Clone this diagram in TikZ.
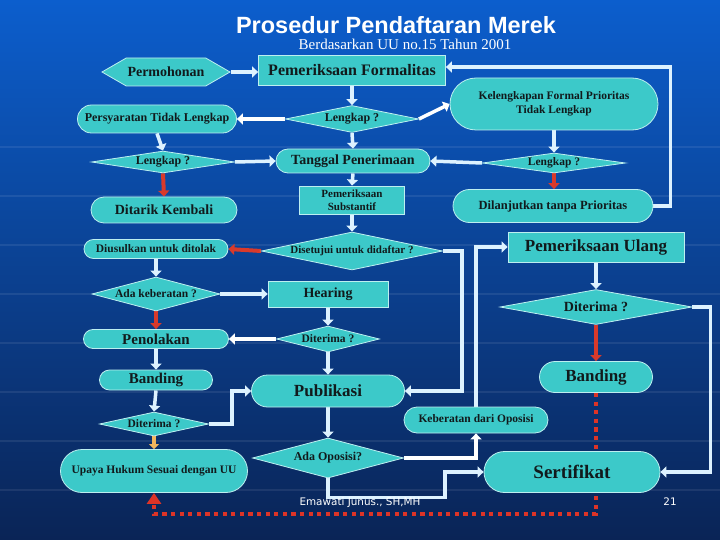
\documentclass[tikz,border=0pt]{standalone}
\usepackage{fontspec}
\setmainfont{Liberation Serif}
\setsansfont{Liberation Sans}
\newfontfamily\footfont{DejaVu Sans}
\usetikzlibrary{positioning, arrows.meta, shapes.geometric, shapes.misc, shapes.symbols, calc}
\definecolor{bgtop}{HTML}{0C5ECD}
\definecolor{bgmid}{HTML}{0D4AA2}
\definecolor{bgbot}{HTML}{0A2456}
\definecolor{boxfill}{HTML}{3CC9C9}
\definecolor{boxedge}{HTML}{BDEFF0}
\definecolor{ink}{HTML}{111A1C}
\definecolor{link}{HTML}{DDF2FF}
\definecolor{stop}{HTML}{D93A2B}
\definecolor{warm}{HTML}{F2B65E}
\newcommand{\nf}[1]{\fontsize{#1}{1.2\dimexpr#1pt\relax}\selectfont}
\newcommand{\zb}[1]{\makebox[0pt]{#1}}
\pgfdeclarelayer{back}
\pgfdeclarelayer{wires}
\pgfsetlayers{back,wires,main}
\tikzset{
  base/.style  = {draw=boxedge, line width=0.8pt, fill=boxfill, text=ink,
                  font=\bfseries, inner sep=0pt},
  box/.style   = {base, rectangle, align=center},
  term/.style  = {base, rounded rectangle},
  ask/.style   = {base, diamond, aspect=1},
  hexa/.style  = {base, signal, signal to=west and east, signal pointer angle=60},
  ar/.style    = {-{Triangle[length=6pt,width=11pt]}, line width=3.5pt, draw=link},
  war/.style   = {ar, draw=white},
  rar/.style   = {-{Triangle[length=6pt,width=11pt]}, line width=4pt, draw=stop},
  oar/.style   = {-{Triangle[length=5pt,width=10pt]}, line width=3.5pt, draw=warm},
  dotline/.style = {-{Triangle[length=11pt,width=14pt]}, line width=4.3pt, draw=stop!90!red,
                  dash pattern=on 4.3pt off 4.3pt},
  foot/.style  = {text=white, font=\footfont\nf{10.4}},
}
\begin{document}
\begin{tikzpicture}[x=1pt, y=-1pt]
  \useasboundingbox (0,0) rectangle (720,540);

  % background
  \begin{pgfonlayer}{back}
    \shade[top color=bgtop, middle color=bgmid, bottom color=bgbot] (0,0) rectangle (720,540);
    \foreach \y in {147,196,245,294,343,392,441,490}
      \draw[white, opacity=0.08, line width=1.5pt] (0,\y) -- (720,\y);
  \end{pgfonlayer}

  % heading
  \node[text=white, font=\sffamily\bfseries\nf{23.5}] (ttl) at (396,25) {Prosedur Pendaftaran Merek};
  \node[text=white, font=\nf{15}] (sub) at (405,44) {Berdasarkan UU no.15 Tahun 2001};

  % left column
  \node[hexa, minimum width=128, minimum height=28, font=\bfseries\nf{14}] (perm) at (166,72) {Permohonan};
  \node[term, minimum width=159, minimum height=28, font=\bfseries\nf{12}] (syarat) at (157,119) {\zb{Persyaratan Tidak Lengkap}};
  \node[ask, minimum width=143, minimum height=22, font=\bfseries\nf{12}] (lkL) at (163,162) {\zb{Lengkap ?}};
  \node[term, minimum width=146, minimum height=26, font=\bfseries\nf{14}] (tarik) at (164,210) {\zb{Ditarik Kembali}};
  \node[term, minimum width=144, minimum height=19, font=\bfseries\nf{11.5}] (usul) at (156,249) {\zb{Diusulkan untuk ditolak}};
  \node[ask, minimum width=128, minimum height=34, font=\bfseries\nf{11.5}] (beratL) at (156,294) {\zb{Ada keberatan ?}};
  \node[term, minimum width=145, minimum height=19, font=\bfseries\nf{15}] (tolak) at (156,339) {\zb{Penolakan}};
  \node[term, minimum width=113, minimum height=20, font=\bfseries\nf{15}] (bandL) at (156,380) {\zb{Banding}};
  \node[ask, minimum width=109, minimum height=24, font=\bfseries\nf{11.5}] (trmL) at (154,424) {\zb{Diterima ?}};
  \node[term, minimum width=187, minimum height=43, font=\bfseries\nf{11.5}] (upaya) at (154,471) {\zb{Upaya Hukum Sesuai dengan UU}};

  % middle column
  \node[box, minimum width=187, minimum height=30, font=\bfseries\nf{16}] (pemf) at (352,70) {Pemeriksaan Formalitas};
  \node[ask, minimum width=133, minimum height=27, font=\bfseries\nf{12}] (lk1) at (352,119) {\zb{Lengkap ?}};
  \node[term, minimum width=154, minimum height=24, font=\bfseries\nf{14}] (tgl) at (353,161) {\zb{Tanggal Penerimaan}};
  \node[box, minimum width=105, minimum height=28, font=\bfseries\fontsize{11}{13}\selectfont] (subst) at (352,200) {Pemeriksaan\\Substantif};
  \node[ask, minimum width=181, minimum height=38, font=\bfseries\nf{11}] (setuju) at (352,251) {\zb{Disetujui untuk didaftar ?}};
  \node[box, minimum width=120, minimum height=26, font=\bfseries\nf{14}] (hear) at (328,294) {Hearing};
  \node[ask, minimum width=103, minimum height=26, font=\bfseries\nf{11.5}] (trmM) at (328,339) {\zb{Diterima ?}};
  \node[term, minimum width=153, minimum height=32, font=\bfseries\nf{17}] (publ) at (328,391) {\zb{Publikasi}};
  \node[ask, minimum width=151, minimum height=40, font=\bfseries\nf{12}] (oposisi) at (328,458) {\zb{Ada Oposisi?}};

  % right column
  \node[term, minimum width=208, minimum height=52, font=\bfseries\fontsize{11.5}{14}\selectfont] (kel) at (554,104)
       {\zb{\begin{tabular}{@{}c@{}}Kelengkapan Formal Prioritas\\Tidak Lengkap\end{tabular}}};
  \node[ask, minimum width=143, minimum height=20, font=\bfseries\nf{11.5}] (lkR) at (554,163) {\zb{Lengkap ?}};
  \node[term, minimum width=200, minimum height=33, font=\bfseries\nf{12.5}] (lanjut) at (553,206) {\zb{Dilanjutkan tanpa Prioritas}};
  \node[box, minimum width=176, minimum height=30, font=\bfseries\nf{17}] (ulang) at (596,247) {Pemeriksaan Ulang};
  \node[ask, minimum width=192, minimum height=35, font=\bfseries\nf{14}] (trmR) at (596,307) {\zb{Diterima ?}};
  \node[term, minimum width=113, minimum height=31, font=\bfseries\nf{17}] (bandR) at (596,377) {\zb{Banding}};
  \node[term, minimum width=144, minimum height=26, font=\bfseries\nf{11.5}] (keb) at (476,420) {\zb{Keberatan dari Oposisi}};
  \node[term, minimum width=176, minimum height=41, font=\bfseries\nf{19}] (sert) at (572,472) {\zb{Sertifikat}};

  % footer
  \node[foot] (auth) at (360,503) {Emawati Junus., SH,MH};
  \node[foot] (pg) at (670,502) {21};

  % connectors
  \begin{pgfonlayer}{wires}
    \draw[ar] (perm.east) -- (perm.east -| pemf.west);
    \draw[ar] (pemf.south) -- (lk1.north);
    \draw[war] (lk1.west) -- (syarat.east);
    \draw[war] (lk1.east) -- (kel.west);
    \draw[ar] (lk1.south) -- (tgl.north);
    \draw[ar] (syarat.south) -- (lkL.north);
    \draw[ar] (lkL.east) -- (tgl.west);
    \draw[rar] (lkL.south) -- (tarik.north);
    \draw[ar] (kel.south) -- (lkR.north);
    \draw[ar] (lkR.west) -- (tgl.east);
    \draw[rar] (lkR.south) -- (lkR.south |- lanjut.north);
    \draw[ar] (lanjut.east) -- ++(17,0) |- ([yshift=3pt]pemf.east);
    \draw[ar] (tgl.south) -- (subst.north);
    \draw[ar] (subst.south) -- (setuju.north);
    \draw[rar] (setuju.west) -- (usul.east);
    \draw[ar] (setuju.east) -- ++(19,0) |- (publ.east);
    \draw[ar] (usul.south) -- (beratL.north);
    \draw[ar] (beratL.east) -- (hear.west);
    \draw[rar] (beratL.south) -- (tolak.north);
    \draw[ar] (hear.south) -- (trmM.north);
    \draw[war] (trmM.west) -- (tolak.east);
    \draw[ar] (trmM.south) -- (publ.north);
    \draw[ar] (tolak.south) -- (bandL.north);
    \draw[ar] (bandL.south) -- (trmL.north);
    \draw[ar] (trmL.east) -- ++(23,0) |- (publ.west);
    \draw[oar] (trmL.south) -- (upaya.north);
    \draw[ar] (publ.south) -- (oposisi.north);
    \draw[war] (oposisi.east) -| (keb.south);
    \draw[ar] (keb.north) |- (ulang.west);
    \draw[ar] (ulang.south) -- (trmR.north);
    \draw[rar] (trmR.south) -- (bandR.north);
    \draw[ar] (trmR.east) -- ++(18,0) |- (sert.east);
    \draw[ar] (oposisi.south) -- ++(0,19) -- ++(117,0) |- (sert.west);
    \draw[dotline] (bandR.south) -- ++(0,121) -| (upaya.south);
  \end{pgfonlayer}
\end{tikzpicture}
\end{document}
